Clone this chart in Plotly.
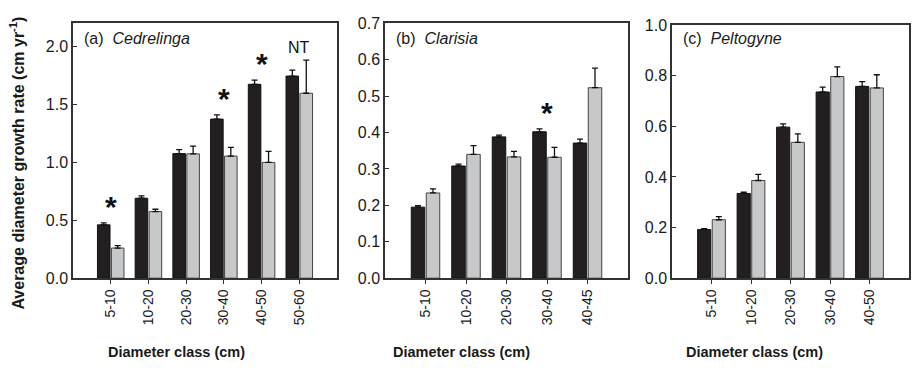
import plotly.graph_objects as go

# ---- data: mean diameter growth (cm/yr) and standard errors ----
classes_a = ["5-10", "10-20", "20-30", "30-40", "40-50", "50-60"]
dark_a = [0.46, 0.69, 1.075, 1.373, 1.673, 1.744]
dark_a_se = [0.017, 0.02, 0.035, 0.036, 0.036, 0.052]
light_a = [0.26, 0.575, 1.073, 1.054, 0.999, 1.596]
light_a_se = [0.021, 0.02, 0.066, 0.074, 0.096, 0.286]
marks_a = ["*", "", "", "*", "*", "NT"]

classes_b = ["5-10", "10-20", "20-30", "30-40", "40-45"]
dark_b = [0.195, 0.308, 0.388, 0.402, 0.371]
dark_b_se = [0.004, 0.005, 0.005, 0.008, 0.011]
light_b = [0.234, 0.340, 0.333, 0.332, 0.523]
light_b_se = [0.011, 0.024, 0.015, 0.027, 0.054]
marks_b = ["", "", "", "*", ""]

classes_c = ["5-10", "10-20", "20-30", "30-40", "40-50"]
dark_c = [0.192, 0.335, 0.597, 0.736, 0.758]
dark_c_se = [0.004, 0.005, 0.013, 0.019, 0.019]
light_c = [0.231, 0.386, 0.537, 0.797, 0.752]
light_c_se = [0.012, 0.024, 0.033, 0.038, 0.052]
marks_c = ["", "", "", "", ""]

titles = ["(a)  <i>Cedrelinga</i>", "(b)  <i>Clarisia</i>", "(c)  <i>Peltogyne</i>"]
y_ranges = [[0, 2.2], [0, 0.7], [0, 1.0]]
y_dticks = [0.5, 0.1, 0.2]

# ---- layout geometry (pixels) ----
W, H = 912, 375
panels_px = [(73, 337, 16), (385, 628, 16), (672, 909, 18)]
bottom_px = 283
xtitle_centers = [176, 461, 754]

DARK_FILL = "#231f20"
LIGHT_FILL = "#c7c8ca"
FRAME = "#333333"
TEXT = "#1a1a1a"
FONT = "Arial, 'Liberation Sans', sans-serif"

fig = go.Figure()
panels = [
    (classes_a, dark_a, dark_a_se, light_a, light_a_se, marks_a),
    (classes_b, dark_b, dark_b_se, light_b, light_b_se, marks_b),
    (classes_c, dark_c, dark_c_se, light_c, light_c_se, marks_c),
]

annotations = []
for i, (cats, dk, dk_se, lt, lt_se, marks) in enumerate(panels):
    sfx = "" if i == 0 else str(i + 1)
    xa, ya = "x" + sfx, "y" + sfx
    fig.add_trace(go.Bar(
        x=cats, y=dk, xaxis=xa, yaxis=ya, showlegend=False,
        marker=dict(color=DARK_FILL, line=dict(color="#111111", width=1)),
        error_y=dict(type="data", array=dk_se, arrayminus=[0] * len(dk),
                     symmetric=False, color="#111111", thickness=1.3, width=3),
    ))
    fig.add_trace(go.Bar(
        x=cats, y=lt, xaxis=xa, yaxis=ya, showlegend=False,
        marker=dict(color=LIGHT_FILL, line=dict(color="#444444", width=1)),
        error_y=dict(type="data", array=lt_se, arrayminus=[0] * len(lt),
                     symmetric=False, color="#111111", thickness=1.3, width=3),
    ))

    x0, x1, top = panels_px[i]
    dom_x = [x0 / W, x1 / W]
    dom_y = [1 - bottom_px / H, 1 - top / H]
    fig.layout["xaxis" + sfx] = dict(
        domain=dom_x, anchor=ya, type="category", range=[-1, len(cats)],
        showline=True, mirror=True, linecolor=FRAME, linewidth=1.5,
        ticks="outside", ticklen=4, tickcolor=FRAME, tickangle=-90,
        tickfont=dict(family=FONT, size=14, color=TEXT),
        showgrid=False, zeroline=False,
    )
    fig.layout["yaxis" + sfx] = dict(
        domain=dom_y, anchor=xa, range=y_ranges[i], dtick=y_dticks[i],
        tickformat=".1f",
        showline=True, mirror=True, linecolor=FRAME, linewidth=1.5,
        ticks="inside", ticklen=4, tickcolor=FRAME,
        tickfont=dict(family=FONT, size=16, color=TEXT),
        showgrid=False, zeroline=False,
    )

    # panel label
    annotations.append(dict(
        text=titles[i], xref="paper", yref="paper",
        x=(x0 + 9) / W, y=1 - 32 / H, xanchor="left", yanchor="middle",
        showarrow=False, font=dict(family=FONT, size=16, color=TEXT),
    ))
    # significance marks above each pair
    for c, d, dse, l, lse, m in zip(cats, dk, dk_se, lt, lt_se, marks):
        if not m:
            continue
        top_val = max(d + dse, l + lse)
        big = m == "*"
        annotations.append(dict(
            text=m, xref=xa, yref=ya, x=c, y=top_val,
            xanchor="center", yanchor="bottom", showarrow=False,
            yshift=-2 if big else 2,
            font=dict(family=FONT, size=30 if big else 16, color="#111111",
                      weight="bold" if big else "normal"),
        ))
    # x axis title
    annotations.append(dict(
        text="<b>Diameter class (cm)</b>", xref="paper", yref="paper",
        x=xtitle_centers[i] / W, y=1 - 360 / H, xanchor="center", yanchor="middle",
        showarrow=False,
        font=dict(family=FONT, size=14.5, color=TEXT),
    ))

# shared y axis title
annotations.append(dict(
    text="<b>Average diameter growth rate (cm yr<sup>-1</sup>)</b>",
    xref="paper", yref="paper", x=17 / W, y=1 - 163 / H,
    xanchor="center", yanchor="middle", textangle=-90, showarrow=False,
    font=dict(family=FONT, size=16, color=TEXT),
))

fig.update_layout(
    width=W, height=H, autosize=False,
    margin=dict(l=0, r=0, t=0, b=0),
    paper_bgcolor="white", plot_bgcolor="white",
    barmode="group", bargap=0.26, bargroupgap=0.1,
    annotations=annotations,
)

fig.write_html("out.html")
